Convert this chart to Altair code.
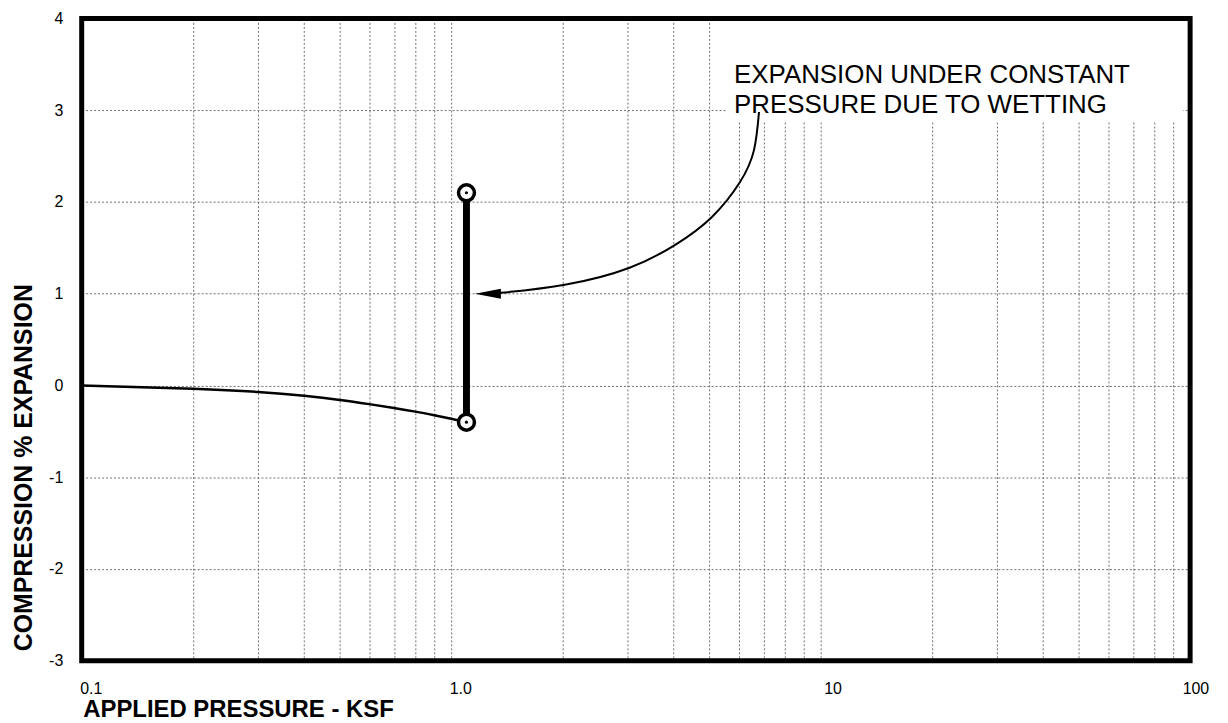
import altair as alt
import pandas as pd

# ---- data ----
curve_x = [0.1, 0.2, 0.3, 0.4, 0.5, 0.6, 0.7, 0.8, 0.9, 1.0, 1.1]
curve_y = [0.0, -0.035, -0.07, -0.112, -0.157, -0.203, -0.245, -0.285, -0.325, -0.363, -0.4]

wet_x = [1.1, 1.1]
wet_y = [-0.4, 2.1]

arrow_x = [6.81, 6.60, 6.05, 5.08, 4.04, 3.04, 2.03, 1.36, 1.30]
arrow_y = [2.98, 2.565, 2.217, 1.837, 1.533, 1.283, 1.098, 1.01, 1.005]
arrow_tip_x = [1.16]
arrow_tip_y = [1.0]

note_lines = ["EXPANSION UNDER CONSTANT", "PRESSURE DUE TO WETTING"]
note_x = [5.83, 5.83]
note_y = [3.297, 2.971]

box_x = [5.58]
box_x2 = [95.7]
box_y = [2.87]
box_y2 = [4.0]

x_domain = [0.1, 100]
y_domain = [-3, 4]

x_grid = [m * 10.0 ** e for e in (-1, 0, 1) for m in range(1, 10)] + [100.0]
y_ticks = [-3, -2, -1, 0, 1, 2, 3, 4]

FONT = "Liberation Sans"

xscale = alt.Scale(type="log", domain=x_domain, nice=False)
yscale = alt.Scale(domain=y_domain, nice=False, zero=False)

x_axis = alt.Axis(
    values=x_grid,
    labelExpr="datum.value == 0.1 ? '0.1' : datum.value == 1 ? '1.0' : datum.value == 10 ? '10' : datum.value == 100 ? '100' : ''",
    grid=True, gridDash=[2, 2], gridColor="#6f6f6f", gridWidth=1,
    domain=False, ticks=False, tickSize=0,
    labelFont=FONT, labelFontSize=16, labelColor="black",
    labelAlign="left", labelBaseline="top", labelFlush=False, labelPadding=20,
    labelOffset={"expr": "datum.value >= 100 ? -8 : (datum.value >= 10 ? 3 : -2)"},
    labelOverlap=False,
    title="APPLIED PRESSURE  -  KSF", titleFont=FONT, titleFontSize=24, titleFontWeight="bold",
    titleColor="black", titleAlign="left", titleAnchor="start", titleBaseline="alphabetic",
    titleX=1, titleY=56,
)
y_axis = alt.Axis(
    values=y_ticks,
    labelExpr="toString(datum.value)",
    grid=True, gridDash=[2, 2], gridColor="#6f6f6f", gridWidth=1,
    domain=False, ticks=False, tickSize=0,
    labelFont=FONT, labelFontSize=16, labelColor="black",
    labelPadding=19, labelFlush=False, labelOverlap=False,
    title="COMPRESSION   %   EXPANSION", titleFont=FONT, titleFontSize=25, titleFontWeight="bold",
    titleColor="black", titleAngle=270, titleAlign="left", titleBaseline="alphabetic",
    titleX=-50, titleY=635,
)

curve_df = pd.DataFrame({"x": curve_x, "y": curve_y})
wet_df = pd.DataFrame({"x": wet_x, "y": wet_y})
arrow_df = pd.DataFrame({"x": arrow_x, "y": arrow_y, "o": list(range(len(arrow_x)))})
tip_df = pd.DataFrame({"x": arrow_tip_x, "y": arrow_tip_y})
note_df = pd.DataFrame({"x": note_x, "y": note_y, "t": note_lines})
box_df = pd.DataFrame({"x": box_x, "x2": box_x2, "y": box_y, "y2": box_y2})
frame_df = pd.DataFrame({"x": [x_domain[0]], "x2": [x_domain[1]], "y": [y_domain[0]], "y2": [y_domain[1]]})

base_x = alt.X("x:Q", scale=xscale, axis=x_axis)
base_y = alt.Y("y:Q", scale=yscale, axis=y_axis)

box = alt.Chart(box_df).mark_rect(color="white").encode(
    x=base_x, x2="x2:Q", y=base_y, y2="y2:Q")

curve = alt.Chart(curve_df).mark_line(color="black", strokeWidth=2.5, interpolate="natural").encode(
    x=alt.X("x:Q", scale=xscale), y=alt.Y("y:Q", scale=yscale))

wet = alt.Chart(wet_df).mark_line(color="black", strokeWidth=7, strokeCap="butt").encode(
    x=alt.X("x:Q", scale=xscale), y=alt.Y("y:Q", scale=yscale))

arrow = alt.Chart(arrow_df).mark_line(color="black", strokeWidth=2, interpolate="natural").encode(
    x=alt.X("x:Q", scale=xscale), y=alt.Y("y:Q", scale=yscale), order="o:Q")

tip = alt.Chart(tip_df).mark_point(
    shape="M 0 0 L 2 -0.38 L 2 0.38 Z", size=676, filled=True, color="black", opacity=1).encode(
    x=alt.X("x:Q", scale=xscale), y=alt.Y("y:Q", scale=yscale))

rings = alt.Chart(wet_df).mark_point(
    shape="circle", size=256, filled=False, fill="white", fillOpacity=1, stroke="black",
    strokeWidth=3.5, opacity=1).encode(
    x=alt.X("x:Q", scale=xscale), y=alt.Y("y:Q", scale=yscale))

dots = alt.Chart(wet_df).mark_point(
    shape="circle", size=10, filled=True, color="black", opacity=1).encode(
    x=alt.X("x:Q", scale=xscale), y=alt.Y("y:Q", scale=yscale))

note = alt.Chart(note_df).mark_text(
    font=FONT, fontSize=26, align="left", baseline="alphabetic", color="black").encode(
    x=alt.X("x:Q", scale=xscale), y=alt.Y("y:Q", scale=yscale), text="t:N")

frame = alt.Chart(frame_df).mark_rect(
    fill="white", fillOpacity=0, stroke="black", strokeWidth=5, strokeJoin="miter").encode(
    x=alt.X("x:Q", scale=xscale), x2="x2:Q", y=alt.Y("y:Q", scale=yscale), y2="y2:Q")

chart = alt.layer(box, curve, wet, arrow, tip, rings, dots, note, frame).properties(
    width=1113, height=645,
    background="white",
    autosize=alt.AutoSizeParams(type="none"),
    padding={"left": 74, "top": 9, "right": 30, "bottom": 60},
).configure_view(strokeWidth=0)

chart.save("out.html", embed_options={"renderer": "svg", "actions": False})
